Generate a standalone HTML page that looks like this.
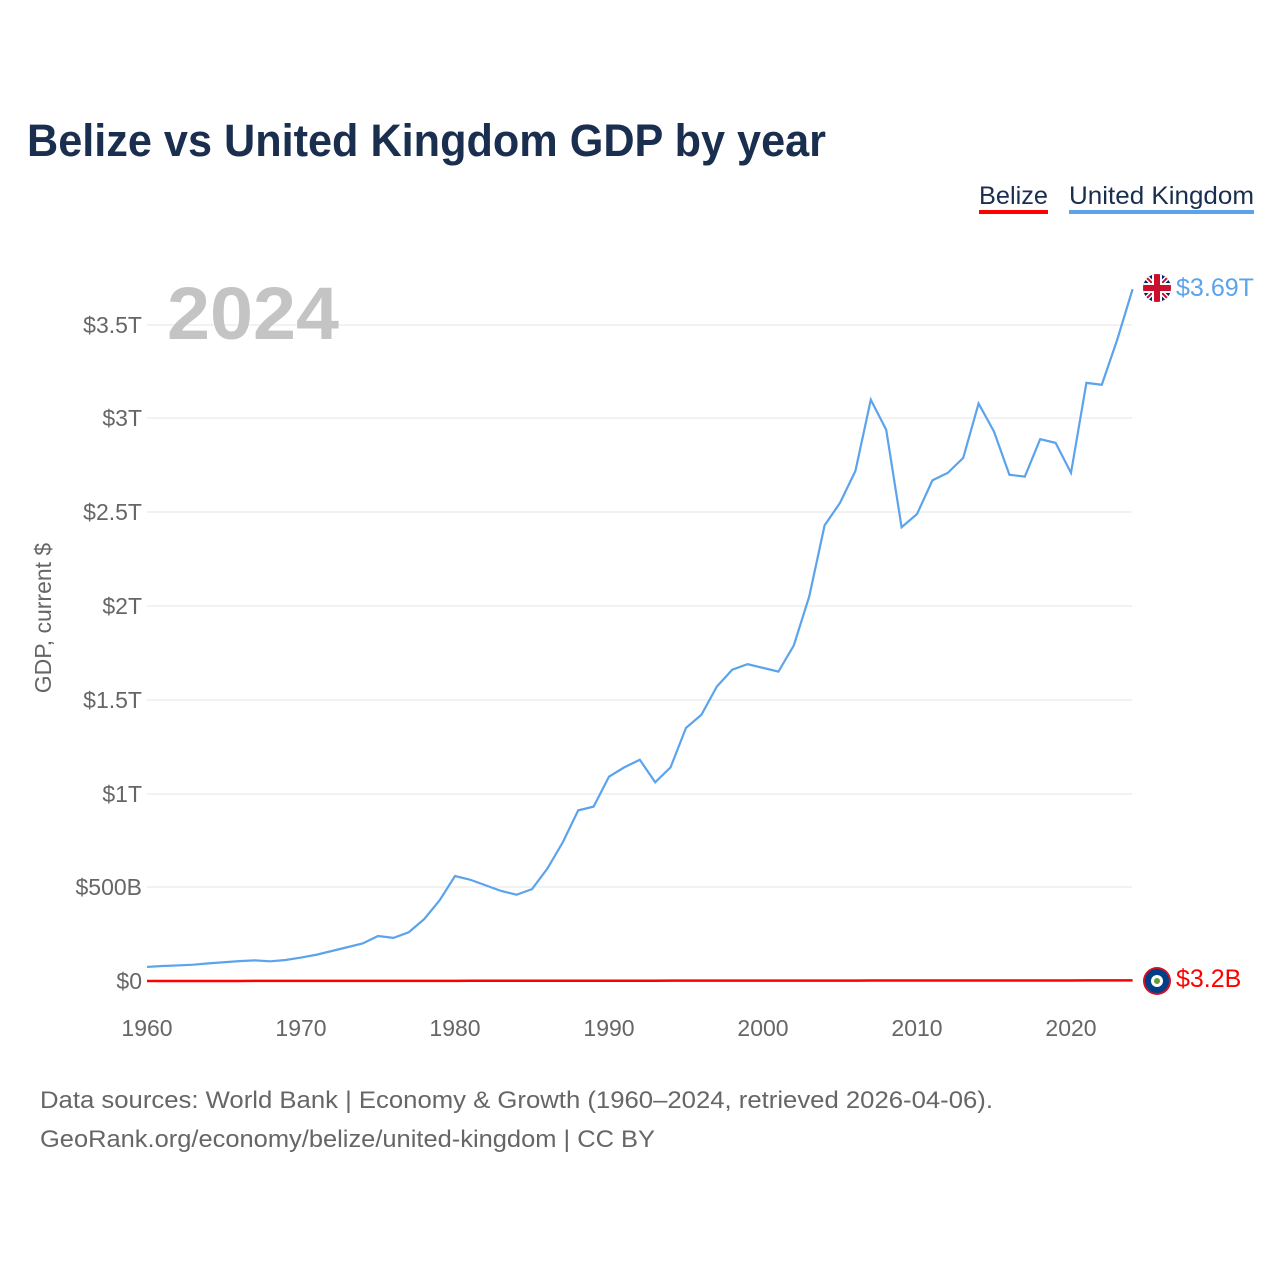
<!DOCTYPE html>
<html><head><meta charset="utf-8"><style>
body{margin:0;background:#fff;font-family:"Liberation Sans",sans-serif}
</style></head><body>
<svg width="1280" height="1280" xmlns="http://www.w3.org/2000/svg" font-family="Liberation Sans, sans-serif">
<rect width="1280" height="1280" fill="#fff"/>
<text x="27" y="156" font-size="45" font-weight="bold" fill="#1a2e4f" textLength="799" lengthAdjust="spacingAndGlyphs">Belize vs United Kingdom GDP by year</text>
<text x="979" y="204" font-size="25" fill="#1a2e4f" textLength="69" lengthAdjust="spacingAndGlyphs">Belize</text>
<rect x="979" y="210" width="69" height="4" fill="#ff0000"/>
<text x="1069" y="204" font-size="25" fill="#1a2e4f" textLength="185" lengthAdjust="spacingAndGlyphs">United Kingdom</text>
<rect x="1069" y="210" width="185" height="4" fill="#5ba3ec"/>
<g stroke="#e6e6e6" stroke-width="1">
<line x1="147" x2="1132" y1="325" y2="325"/><line x1="147" x2="1132" y1="418" y2="418"/>
<line x1="147" x2="1132" y1="512" y2="512"/><line x1="147" x2="1132" y1="606" y2="606"/>
<line x1="147" x2="1132" y1="700" y2="700"/><line x1="147" x2="1132" y1="794" y2="794"/>
<line x1="147" x2="1132" y1="887" y2="887"/>
</g>
<g font-size="23" fill="#666" text-anchor="end">
<text x="142" y="333">$3.5T</text><text x="142" y="426">$3T</text><text x="142" y="520">$2.5T</text>
<text x="142" y="614">$2T</text><text x="142" y="708">$1.5T</text><text x="142" y="802">$1T</text>
<text x="142" y="895">$500B</text><text x="142" y="989">$0</text>
</g>
<g font-size="23" fill="#666" text-anchor="middle">
<text x="147" y="1036">1960</text><text x="301" y="1036">1970</text><text x="455" y="1036">1980</text>
<text x="609" y="1036">1990</text><text x="763" y="1036">2000</text><text x="917" y="1036">2010</text><text x="1071" y="1036">2020</text>
</g>
<text transform="translate(51,618) rotate(-90)" font-size="23" fill="#666" text-anchor="middle">GDP, current $</text>
<text x="167" y="339" font-size="74" font-weight="bold" fill="#c4c4c4" textLength="172" lengthAdjust="spacingAndGlyphs">2024</text>
<polyline id="uk" fill="none" stroke="#5ba3ec" stroke-width="2.2" points=""/>
<polyline id="bz" fill="none" stroke="#ff0000" stroke-width="2.5" points=""/>
<clipPath id="c"><circle cx="1157" cy="288" r="14"/></clipPath>
<circle cx="1157" cy="288" r="14" fill="#012169"/>
<g clip-path="url(#c)">
<line x1="1143" y1="274" x2="1171" y2="302" stroke="#fff" stroke-width="5"/>
<line x1="1171" y1="274" x2="1143" y2="302" stroke="#fff" stroke-width="5"/>
<line x1="1143" y1="274" x2="1171" y2="302" stroke="#c8102e" stroke-width="2"/>
<line x1="1171" y1="274" x2="1143" y2="302" stroke="#c8102e" stroke-width="2"/>
<rect x="1143" y="283" width="28" height="10" fill="#fff"/><rect x="1152" y="274" width="10" height="28" fill="#fff"/>
<rect x="1143" y="285" width="28" height="6" fill="#c8102e"/><rect x="1154" y="274" width="6" height="28" fill="#c8102e"/>
</g>
<text x="1176" y="296" font-size="25" fill="#5ba3ec" textLength="78" lengthAdjust="spacingAndGlyphs">$3.69T</text>
<circle cx="1157" cy="981" r="14" fill="#ce1126"/>
<circle cx="1157" cy="981" r="12" fill="#003f87"/>
<circle cx="1157" cy="981" r="6" fill="#fff"/>
<circle cx="1157" cy="981" r="3" fill="#6a9a3a"/>
<text x="1176" y="987" font-size="25" fill="#ff0000">$3.2B</text>
<text x="40" y="1108" font-size="24" fill="#666" textLength="953" lengthAdjust="spacingAndGlyphs">Data sources: World Bank | Economy &amp; Growth (1960–2024, retrieved 2026-04-06).</text>
<text x="40" y="1147" font-size="24" fill="#666" textLength="615" lengthAdjust="spacingAndGlyphs">GeoRank.org/economy/belize/united-kingdom | CC BY</text>
</svg>
<script>
var uk=[0.075,0.08,0.083,0.087,0.094,0.10,0.106,0.11,0.105,0.112,0.125,0.14,0.16,0.18,0.2,0.24,0.23,0.26,0.33,0.43,0.56,0.54,0.51,0.48,0.46,0.49,0.6,0.74,0.91,0.93,1.09,1.14,1.18,1.06,1.14,1.35,1.42,1.57,1.66,1.69,1.67,1.65,1.79,2.05,2.43,2.55,2.72,3.10,2.94,2.42,2.49,2.67,2.71,2.79,3.08,2.93,2.70,2.69,2.89,2.87,2.71,3.19,3.18,3.42,3.69];
function X(i){return 147+i*15.4}function Y(v){return 981-v*187.5}
document.getElementById('uk').setAttribute('points',uk.map(function(v,i){return X(i)+','+Y(v)}).join(' '));
var bz=[];for(var i=0;i<65;i++){bz.push(X(i)+','+Y(0.00005*i))}
document.getElementById('bz').setAttribute('points',bz.join(' '));
</script>
</body></html>
